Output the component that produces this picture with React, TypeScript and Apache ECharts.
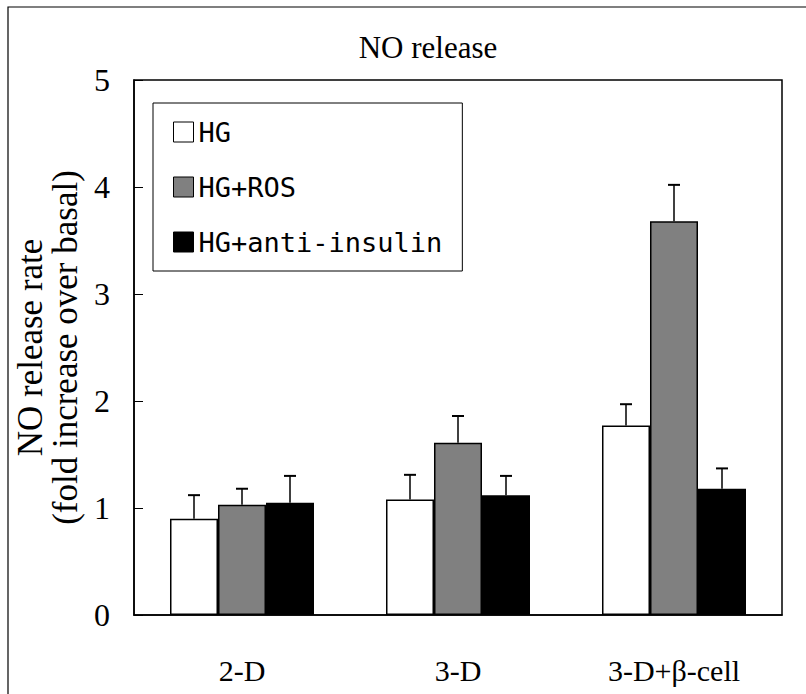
import React, { useEffect, useRef } from "react";
import * as echarts from "echarts";

const categories = ["2-D", "3-D", "3-D+β-cell"];
const seriesNames = ["HG", "HG+ROS", "HG+anti-insulin"];
const hgValues = [0.9, 1.08, 1.77];
const hgErrors = [0.22, 0.23, 0.2];
const rosValues = [1.03, 1.61, 3.68];
const rosErrors = [0.15, 0.25, 0.34];
const antiValues = [1.05, 1.12, 1.18];
const antiErrors = [0.25, 0.18, 0.19];
const yTicks = [0, 1, 2, 3, 4, 5];

const barColors = ["#ffffff", "#808080", "#000000"];
const SERIF = "'Liberation Serif', 'Times New Roman', serif";

export default function App() {
  const ref = useRef<HTMLDivElement>(null);
  useEffect(() => {
    if (!ref.current) return;
    const chart = echarts.init(ref.current, undefined, { renderer: "svg" });
    const values = [hgValues, rosValues, antiValues];
    const errors = [hgErrors, rosErrors, antiErrors];
    const barFrac = (1 - 1 / 3) / 3;
    const offsets = [-barFrac, 0, barFrac];

    const barSeries = seriesNames.map((name, i) => ({
      name,
      type: "bar",
      data: values[i],
      barGap: "0%",
      barCategoryGap: "33.333%",
      itemStyle: { color: barColors[i], borderColor: "#000", borderWidth: 1.5 },
      z: 2,
    }));

    const errSeries = seriesNames.map((name, i) => ({
      name: name + " error",
      type: "custom",
      z: 3,
      data: values[i].map((v, k) => [k, v, errors[i][k]]),
      renderItem: (params: any, api: any) => {
        const cat = api.value(0);
        const v = api.value(1);
        const e = api.value(2);
        const base = api.coord([cat, v]);
        const top = api.coord([cat, v + e]);
        const band = api.size([1, 0])[0];
        const x = base[0] + offsets[i] * band;
        return {
          type: "group",
          children: [
            {
              type: "line",
              shape: { x1: x, y1: base[1], x2: x, y2: top[1] },
              style: { stroke: "#000", lineWidth: 1.5 },
            },
            {
              type: "line",
              shape: { x1: x - 6, y1: top[1], x2: x + 6, y2: top[1] },
              style: { stroke: "#000", lineWidth: 2 },
            },
          ],
        };
      },
    }));

    chart.setOption({
      animation: false,
      backgroundColor: "#ffffff",
      title: {
        text: "NO release",
        left: 423,
        textAlign: "center",
        top: 27,
        textStyle: {
          fontFamily: SERIF,
          fontWeight: "normal",
          fontSize: 31,
          color: "#000",
        },
      },
      graphic: [
        {
          type: "rect",
          shape: { x: 8, y: 7, width: 830, height: 720 },
          style: { fill: "none", stroke: "#000", lineWidth: 1.2 },
          silent: true,
        },
      ],
      legend: {
        data: seriesNames,
        orient: "vertical",
        left: 153,
        top: 103,
        padding: [14, 20, 14, 20],
        itemWidth: 20,
        itemHeight: 20,
        itemGap: 25,
        icon: "rect",
        borderColor: "#000",
        borderWidth: 1,
        backgroundColor: "#fff",
        itemStyle: { borderColor: "#000", borderWidth: 1 },
        textStyle: {
          fontFamily: "'DejaVu Sans Mono', monospace",
          fontSize: 27,
          lineHeight: 30,
          color: "#000",
        },
      },
      grid: {
        left: 134,
        right: 24,
        top: 80,
        bottom: 79,
        show: true,
        borderColor: "#000",
        borderWidth: 1.5,
        backgroundColor: "transparent",
      },
      xAxis: {
        type: "category",
        data: categories,
        axisLine: { lineStyle: { color: "#000", width: 1.5 } },
        axisTick: { inside: true, length: 11, lineStyle: { color: "#000", width: 1 } },
        axisLabel: {
          margin: 40,
          fontFamily: SERIF,
          fontSize: 30,
          color: "#000",
        },
      },
      yAxis: {
        type: "value",
        min: yTicks[0],
        max: yTicks[yTicks.length - 1],
        interval: 1,
        name: "NO release rate\n(fold increase over basal)",
        nameLocation: "middle",
        nameRotate: 90,
        nameGap: 38,
        nameTextStyle: {
          fontFamily: SERIF,
          fontSize: 35,
          lineHeight: 35,
          color: "#000",
        },
        splitLine: { show: false },
        axisLine: { show: true, lineStyle: { color: "#000", width: 1.5 } },
        axisTick: { show: true, inside: true, length: 9, lineStyle: { color: "#000", width: 1 } },
        axisLabel: {
          margin: 24,
          fontFamily: SERIF,
          fontSize: 32,
          color: "#000",
        },
      },
      series: [...barSeries, ...errSeries],
    });
    return () => chart.dispose();
  }, []);
  return (
    <div
      ref={ref}
      style={{ position: "absolute", left: 0, top: 0, width: 806, height: 694 }}
    />
  );
}
